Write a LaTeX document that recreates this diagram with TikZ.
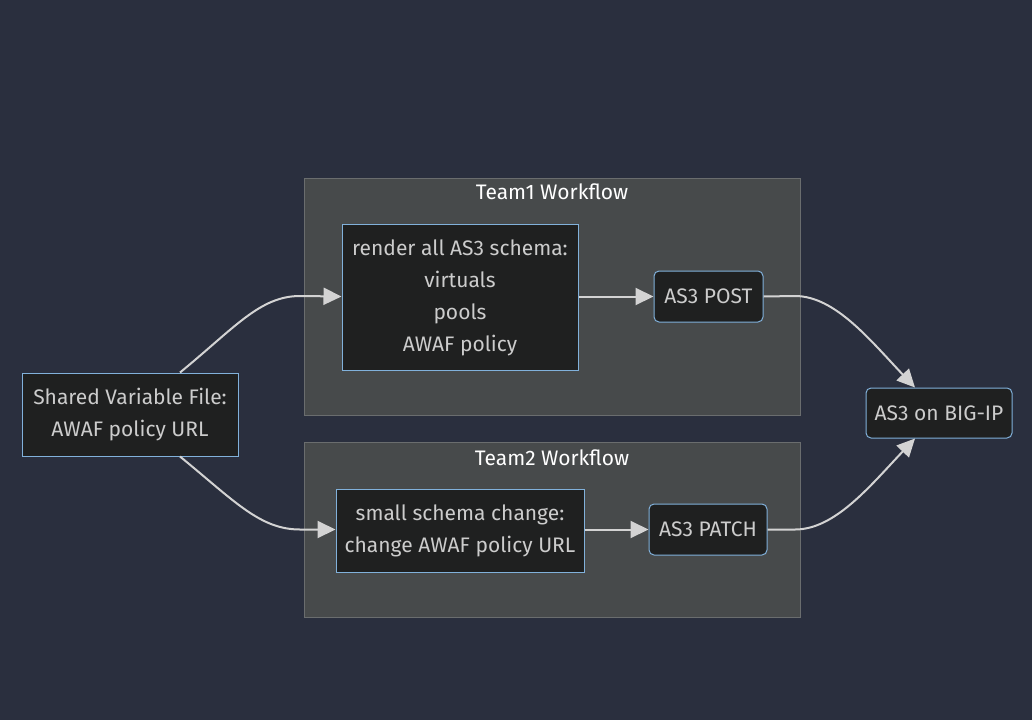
\documentclass[tikz,border=0pt]{standalone}
\usepackage{fontspec}
\setmainfont{Fira Sans}
\usetikzlibrary{arrows.meta}
\definecolor{bgcol}{HTML}{2A2F3E}
\definecolor{clusterfill}{HTML}{474A4B}
\definecolor{clusterline}{HTML}{6A6D6E}
\definecolor{boxfill}{HTML}{1F2020}
\definecolor{boxline}{HTML}{81B1DB}
\definecolor{txt}{HTML}{CCCCCC}
\definecolor{edgecol}{HTML}{D3D3D3}
\begin{document}
\begin{tikzpicture}[x=1pt,y=-1pt,
    box/.style={draw=boxline,fill=boxfill,line width=1pt,text=txt,align=center,
      font=\fontsize{21}{32}\selectfont,inner sep=0pt},
    rbox/.style={box,rounded corners=5pt},
    cluster/.style={draw=clusterline,fill=clusterfill,line width=1pt,inner sep=0pt},
    title/.style={text=white,font=\fontsize{21}{24}\selectfont},
    edge/.style={draw=edgecol,line width=2pt,-{Triangle[length=18pt,width=17pt]}}]
    \fill[bgcol] (0,0) rectangle (1032,720);
    \useasboundingbox (0,0) rectangle (1032,720);

    % subgraphs
    \node[cluster,minimum width=496,minimum height=237] (team1) at (552,296.5) {};
    \node[cluster,minimum width=496,minimum height=175] (team2) at (552,529.5) {};
    \node[title] at (552,192) {Team1 Workflow};
    \node[title] at (552,458) {Team2 Workflow};

    % nodes
    \node[box,minimum width=216,minimum height=83] (shared) at (130,414.5) {Shared Variable File:\\AWAF policy URL};
    \node[box,minimum width=236,minimum height=146] (render) at (460,297.5) {render all AS3 schema:\\virtuals\\pools\\AWAF policy};
    \node[rbox,minimum width=109,minimum height=51] (post) at (708.5,296.5) {AS3 POST};
    \node[box,minimum width=248,minimum height=83] (small) at (460,530.5) {small schema change:\\change AWAF policy URL};
    \node[rbox,minimum width=118,minimum height=51] (patch) at (708,529.5) {AS3 PATCH};
    \node[rbox,minimum width=146,minimum height=50] (bigip) at (939,413) {AS3 on BIG-IP};

    % edges
    \draw[edge] ([xshift=50]shared.north) .. controls +(55,-45) and (260,296) .. (300,296) -- (render.west |- post.west);
    \draw[edge] ([xshift=50]shared.south) .. controls +(55,45) and (260,529.5) .. (300,529.5) -- (small.west |- patch.west);
    \draw[edge] (render.east |- post.west) -- (post.west);
    \draw[edge] (small.east |- patch.west) -- (patch.west);
    \draw[edge] (post.east) -- (795,296) .. controls (835,296) and (870,340) .. ([xshift=-24]bigip.north);
    \draw[edge] (patch.east) -- (795,529.5) .. controls (835,529.5) and (870,486) .. ([xshift=-24]bigip.south);
\end{tikzpicture}
\end{document}
